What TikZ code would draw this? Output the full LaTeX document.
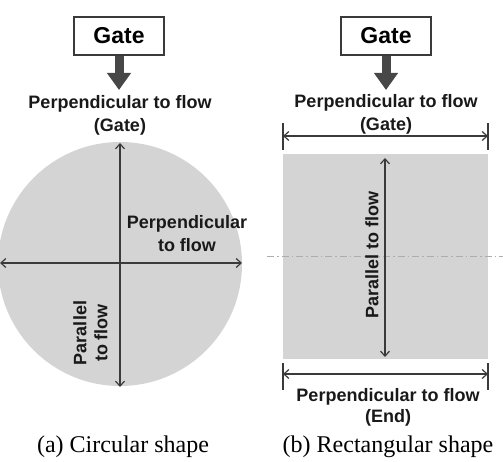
\documentclass[tikz,border=0pt]{standalone}
\usepackage{fontspec}
\setmainfont{Liberation Serif}
\setsansfont{Liberation Sans}
\usetikzlibrary{arrows.meta}
\definecolor{shapegray}{HTML}{D4D4D4}
\definecolor{arrowgray}{HTML}{474747}
\definecolor{linegray}{HTML}{3A3A3A}
\definecolor{dashgray}{HTML}{ADADAD}
\begin{document}
\begin{tikzpicture}[x=1pt,y=-1pt,
  gatebox/.style={draw=linegray,line width=1.3pt,fill=white,minimum width=90pt,minimum height=38pt,inner sep=0pt,font=\fontsize{23}{25}\selectfont\sffamily\bfseries},
  bigarrow/.style={draw=arrowgray,line width=9pt,-{Triangle[width=23pt,length=17pt]}},
  lab/.style={font=\fontsize{18}{23}\selectfont\sffamily\bfseries,align=center,inner sep=0pt,text=black!90},
  dim/.style={draw=linegray,line width=1.2pt,{Straight Barb[length=5pt,width=9pt]}-{Straight Barb[length=5pt,width=9pt]}},
  tick/.style={draw=linegray,line width=1.3pt},
  caption/.style={font=\fontsize{24}{26}\selectfont,inner sep=0pt}]
\useasboundingbox (0,0) rectangle (503,462);
% ---------- (a) circular ----------
\fill[shapegray] (120,264) circle (122);
\node[gatebox] (g1) at (119,36) {Gate};
\coordinate (t1) at (119,90);
\draw[bigarrow] (g1.south) -- (t1);
\node[lab] (l1) at (120,115) {Perpendicular to flow\\(Gate)};
\coordinate (ctop) at (120,143);
\coordinate (cbot) at (120,387);
\coordinate (cleft) at (0,263);
\coordinate (cright) at (242,263);
\draw[dim] (cbot) -- (ctop);
\draw[dim] (cleft) -- (cright);
\node[lab] (l2) at (187,233.5) {Perpendicular\\to flow};
\node[lab,font=\fontsize{18}{21}\selectfont\sffamily\bfseries,rotate=90] (l3) at (90.5,333) {Parallel\\to flow};
\node[caption] (c1) at (123,447) {(a) Circular shape};
% ---------- (b) rectangular ----------
\fill[shapegray] (283,154) rectangle (488,359);
\draw[dashgray,line width=1pt,dash pattern=on 7pt off 3pt on 1.5pt off 3pt] (267,257) -- (503,257);
\node[gatebox] (g2) at (386,36) {Gate};
\coordinate (t2) at (386,90);
\draw[bigarrow] (g2.south) -- (t2);
\node[lab] (l4) at (386,114) {Perpendicular to flow\\(Gate)};
\coordinate (a1) at (283,123); \coordinate (a2) at (283,150);
\coordinate (b1) at (488,123); \coordinate (b2) at (488,150);
\draw[tick] (a1) -- (a2);
\draw[tick] (b1) -- (b2);
\coordinate (d1) at (283,136); \coordinate (d2) at (488,136);
\draw[dim] (d1) -- (d2);
\coordinate (rtop) at (385,158); \coordinate (rbot) at (385,357);
\draw[dim] (rbot) -- (rtop);
\node[lab,rotate=90] (l5) at (372,255) {Parallel to flow};
\coordinate (e1) at (283,363); \coordinate (e2) at (283,390);
\coordinate (f1) at (488,363); \coordinate (f2) at (488,390);
\draw[tick] (e1) -- (e2);
\draw[tick] (f1) -- (f2);
\coordinate (h1) at (283,374); \coordinate (h2) at (488,374);
\draw[dim] (h1) -- (h2);
\node[lab,font=\fontsize{18}{21.5}\selectfont\sffamily\bfseries] (l6) at (388,407.5) {Perpendicular to flow\\(End)};
\node[caption] (c2) at (388,447) {(b) Rectangular shape};
\end{tikzpicture}
\end{document}
